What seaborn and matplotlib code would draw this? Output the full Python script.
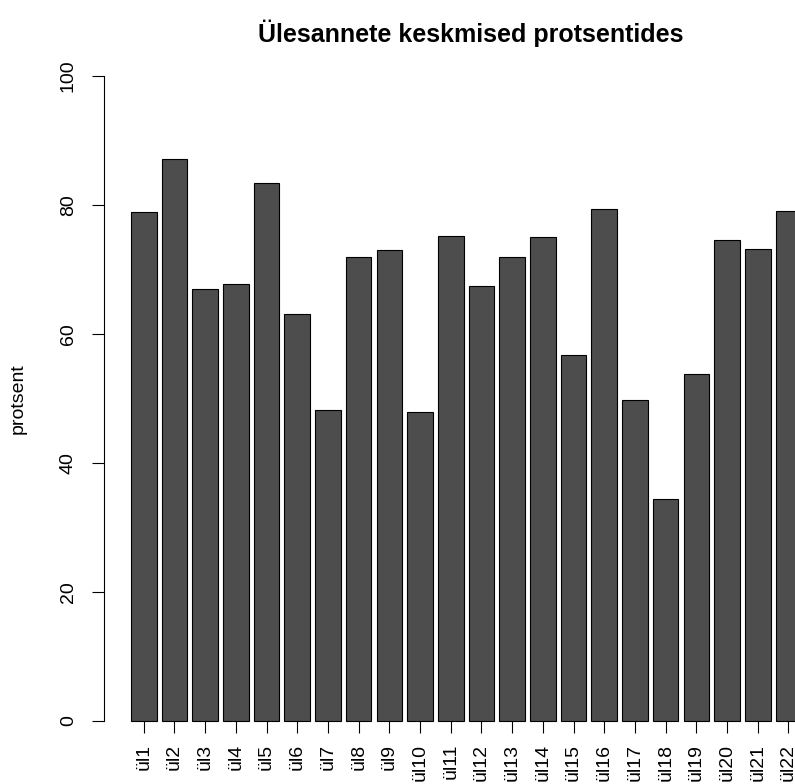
import numpy as np
import pandas as pd
import seaborn as sns
import matplotlib.pyplot as plt

# task labels and mean percentages
labels = ["ül" + str(i) for i in range(1, 23)]
values = [78.9, 87.2, 66.9, 67.7, 83.4, 63.1, 48.2, 72.0, 73.0, 47.9, 75.2,
          67.4, 72.0, 75.1, 56.8, 79.4, 49.7, 34.4, 53.8, 74.5, 73.1, 79.0]
y_ticks = [0, 20, 40, 60, 80, 100]

df = pd.DataFrame({"task": labels, "pct": values})

sns.set_theme(style="white")
plt.rcParams["font.family"] = ["Liberation Sans", "DejaVu Sans"]
plt.rcParams["text.color"] = "black"
plt.rcParams["axes.labelcolor"] = "black"
plt.rcParams["xtick.color"] = "black"
plt.rcParams["ytick.color"] = "black"

W, H = 795, 784
fig = plt.figure(figsize=(W / 100, H / 100), dpi=100)
# plot region runs past the right edge, like the cropped original
ax = fig.add_axes([104 / W, (H - 746.5) / H, 721 / W, 696.3 / H])

sns.barplot(data=df, x="task", y="pct", color="#4D4D4D", saturation=1,
            edgecolor="black", linewidth=0.8, width=0.835, ax=ax)

ax.set_xlim(-1.296, 22.19)
ax.set_ylim(-4, 104)

for s in ["top", "right"]:
    ax.spines[s].set_visible(False)
ax.spines["bottom"].set_position(("data", 0))
ax.spines["bottom"].set_visible(False)
ax.spines["left"].set_bounds(0, 100)
ax.spines["left"].set_color("black")
ax.spines["left"].set_linewidth(0.8)

ax.set_yticks(y_ticks)
ax.set_yticklabels([str(v) for v in y_ticks], rotation=90, va="center")
ax.tick_params(axis="y", direction="out", length=8.6, width=0.8, color="black",
               pad=11, labelsize=14, left=True)
ax.tick_params(axis="x", direction="out", length=8.6, width=0.8, color="black",
               pad=8, labelsize=14, bottom=True)
plt.setp(ax.get_xticklabels(), rotation=90, ha="center", va="top")

ax.set_xlabel("")
ax.set_ylabel("protsent", fontsize=14)
ax.yaxis.set_label_coords(-0.107, 0.5)
ax.set_title("Ülesannete keskmised protsentides", fontsize=18,
             fontweight="bold", pad=6, x=0.508)

plt.savefig("out.png", dpi=100)
